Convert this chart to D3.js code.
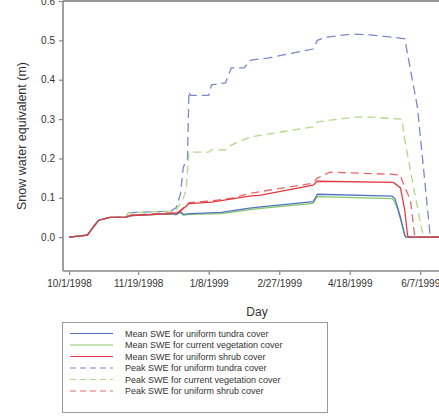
<!DOCTYPE html>
<html>
<head>
<meta charset="utf-8">
<script src="https://cdn.jsdelivr.net/npm/d3@7"></script>
<style>
  body { margin: 0; background: #fff; }
  svg { display: block; font-family: "Liberation Sans", Arial, sans-serif; }
</style>
</head>
<body>
<svg id="chart" width="439" height="417"></svg>
<script>
// break points, [date, SWE in m]
var early = [["1998-10-01", 0], ["1998-10-14", 0.005], ["1998-10-18", 0.025], ["1998-10-22", 0.043],
  ["1998-10-30", 0.05], ["1998-11-10", 0.051]];

var meanTundra = early.concat([["1998-11-14", 0.055], ["1998-12-12", 0.06], ["1998-12-16", 0.058],
  ["1998-12-19", 0.065], ["1998-12-21", 0.058], ["1998-12-26", 0.06], ["1999-01-17", 0.063],
  ["1999-02-06", 0.074], ["1999-02-14", 0.077], ["1999-03-23", 0.09], ["1999-03-26", 0.109],
  ["1999-05-18", 0.104], ["1999-05-20", 0.098], ["1999-05-22", 0.075], ["1999-05-24", 0.05],
  ["1999-05-27", 0.005], ["1999-05-28", 0], ["1999-06-22", 0]]);

var meanVeg = early.concat([["1998-11-14", 0.055], ["1998-12-12", 0.059], ["1998-12-16", 0.057],
  ["1998-12-19", 0.062], ["1998-12-21", 0.056], ["1998-12-26", 0.058], ["1999-01-17", 0.06],
  ["1999-02-06", 0.07], ["1999-02-14", 0.073], ["1999-03-23", 0.086], ["1999-03-26", 0.103],
  ["1999-05-18", 0.098], ["1999-05-20", 0.09], ["1999-05-22", 0.07], ["1999-05-24", 0.045],
  ["1999-05-27", 0.004], ["1999-05-28", 0], ["1999-06-22", 0]]);

var meanShrub = early.concat([["1998-11-14", 0.055], ["1998-12-12", 0.06], ["1998-12-18", 0.063],
  ["1998-12-25", 0.085], ["1999-01-10", 0.089], ["1999-02-06", 0.104], ["1999-02-14", 0.107],
  ["1999-03-23", 0.132], ["1999-03-26", 0.142], ["1999-05-19", 0.139], ["1999-05-24", 0.125],
  ["1999-05-27", 0.069], ["1999-05-29", 0.004], ["1999-05-30", 0], ["1999-06-22", 0]]);

var peakTundra = early.concat([["1998-11-12", 0.062], ["1998-12-12", 0.066], ["1998-12-16", 0.075],
  ["1998-12-19", 0.11], ["1998-12-21", 0.178], ["1998-12-24", 0.2], ["1998-12-25", 0.37],
  ["1998-12-26", 0.36], ["1999-01-08", 0.36], ["1999-01-10", 0.387], ["1999-01-20", 0.392],
  ["1999-01-24", 0.43], ["1999-02-02", 0.43], ["1999-02-07", 0.45], ["1999-02-19", 0.455],
  ["1999-03-23", 0.478], ["1999-03-26", 0.5], ["1999-04-01", 0.508], ["1999-04-20", 0.516],
  ["1999-05-02", 0.514], ["1999-05-16", 0.509], ["1999-05-27", 0.504], ["1999-06-05", 0.33],
  ["1999-06-14", 0.005], ["1999-06-15", 0], ["1999-06-22", 0]]);

var peakVeg = early.concat([["1998-11-12", 0.062], ["1998-12-12", 0.066], ["1998-12-16", 0.07],
  ["1998-12-20", 0.09], ["1998-12-23", 0.12], ["1998-12-25", 0.216], ["1999-01-08", 0.216],
  ["1999-01-10", 0.222], ["1999-01-20", 0.222], ["1999-01-24", 0.234], ["1999-02-07", 0.255],
  ["1999-03-23", 0.28], ["1999-03-26", 0.293], ["1999-04-22", 0.305], ["1999-05-02", 0.305],
  ["1999-05-25", 0.3], ["1999-05-27", 0.247], ["1999-06-04", 0.094], ["1999-06-09", 0.005],
  ["1999-06-10", 0], ["1999-06-22", 0]]);

var peakShrub = early.concat([["1998-11-14", 0.056], ["1998-12-12", 0.062], ["1998-12-18", 0.065],
  ["1998-12-25", 0.088], ["1999-01-10", 0.092], ["1999-01-24", 0.099], ["1999-02-07", 0.112],
  ["1999-03-23", 0.137], ["1999-03-26", 0.15], ["1999-04-04", 0.165], ["1999-05-16", 0.16],
  ["1999-05-24", 0.158], ["1999-05-25", 0.145], ["1999-05-31", 0.094], ["1999-06-03", 0.005],
  ["1999-06-04", 0], ["1999-06-22", 0]]);

var xTicks = ["1998-10-01", "1998-11-19", "1999-01-08", "1999-02-27", "1999-04-18", "1999-06-07"];
var yTicks = [0, 0.1, 0.2, 0.3, 0.4, 0.5, 0.6];

var series = [
  {name: "Peak SWE for uniform tundra cover", values: peakTundra, color: "#7b88c9", dash: "9,5"},
  {name: "Peak SWE for current vegetation cover", values: peakVeg, color: "#b3d78a", dash: "8,5"},
  {name: "Peak SWE for uniform shrub cover", values: peakShrub, color: "#e8686c", dash: "8,5"},
  {name: "Mean SWE for current vegetation cover", values: meanVeg, color: "#86c866", dash: null},
  {name: "Mean SWE for uniform tundra cover", values: meanTundra, color: "#4f73c2", dash: null},
  {name: "Mean SWE for uniform shrub cover", values: meanShrub, color: "#e5393f", dash: null}
];
var legendOrder = [4, 3, 5, 0, 1, 2];

var parse = d3.timeParse("%Y-%m-%d");
var fmt = d3.timeFormat("%-m/%-d/%Y");

var pLeft = 63, pTop = 1, pRight = 440, pBottom = 271;
var svg = d3.select("#chart");

var x = d3.scaleTime()
    .domain([new Date(1998, 8, 26, 17), new Date(1999, 5, 21, 0)])
    .range([pLeft, pRight]);
var y = d3.scaleLinear().domain([-0.086, 0.6]).range([pBottom, pTop]);

svg.append("clipPath").attr("id", "clip")
  .append("rect").attr("x", pLeft).attr("y", pTop - 1).attr("width", pRight - pLeft).attr("height", pBottom - pTop + 1);

var line = d3.line()
    .x(d => x(parse(d[0])))
    .y(d => y(d[1]));

svg.append("g").attr("clip-path", "url(#clip)")
  .selectAll("path")
  .data(series)
  .join("path")
    .attr("d", d => line(d.values))
    .attr("fill", "none")
    .attr("stroke", d => d.color)
    .attr("stroke-width", 1.3)
    .attr("stroke-dasharray", d => d.dash);

// frame
svg.append("line").attr("x1", pLeft).attr("x2", pRight + 5).attr("y1", pTop).attr("y2", pTop)
    .attr("stroke", "#999").attr("stroke-width", 2);

var yAxis = svg.append("g")
    .attr("transform", "translate(" + pLeft + ",0)")
    .call(d3.axisLeft(y).tickValues(yTicks).tickFormat(d3.format(".1f")).tickSize(4).tickPadding(4));
var xAxis = svg.append("g")
    .attr("transform", "translate(0," + pBottom + ")")
    .call(d3.axisBottom(x).tickValues(xTicks.map(parse)).tickFormat(fmt).tickSize(4).tickPadding(5));

[yAxis, xAxis].forEach(function(a) {
  a.select(".domain").attr("stroke", "#888").attr("stroke-width", 1.6);
  a.selectAll(".tick line").attr("stroke", "#888").attr("stroke-width", 1.2);
  a.selectAll(".tick text").attr("fill", "#333").attr("font-size", 10)
    .attr("font-family", "'Liberation Sans', Arial, sans-serif");
});
yAxis.select(".domain").attr("d", "M0," + pTop + "V" + pBottom);
xAxis.select(".domain").attr("d", "M" + pLeft + ",0H" + (pRight + 5));

svg.append("text")
    .attr("transform", "translate(26,136) rotate(-90)")
    .attr("text-anchor", "middle")
    .attr("font-size", 12.5)
    .attr("fill", "#333")
    .text("Snow water equivalent (m)");

svg.append("text")
    .attr("x", 257).attr("y", 316)
    .attr("text-anchor", "middle")
    .attr("font-size", 12)
    .attr("fill", "#333")
    .text("Day");

// legend
var legend = svg.append("g");
legend.append("rect")
    .attr("x", 62.5).attr("y", 322.5).attr("width", 265).attr("height", 90)
    .attr("fill", "#fff").attr("stroke", "#999");

var item = legend.selectAll("g.item")
  .data(legendOrder.map(i => series[i]))
  .join("g")
    .attr("class", "item")
    .attr("transform", (d, i) => "translate(0," + (333.5 + i * 11.5) + ")");

item.append("line")
    .attr("x1", 70).attr("x2", 113)
    .attr("stroke", d => d.color)
    .attr("stroke-width", 1.2)
    .attr("stroke-dasharray", d => d.dash ? "6,4" : null);

item.append("text")
    .attr("x", 125).attr("dy", "0.35em")
    .attr("font-size", 9)
    .attr("fill", "#333")
    .text(d => d.name);
</script>
</body>
</html>
